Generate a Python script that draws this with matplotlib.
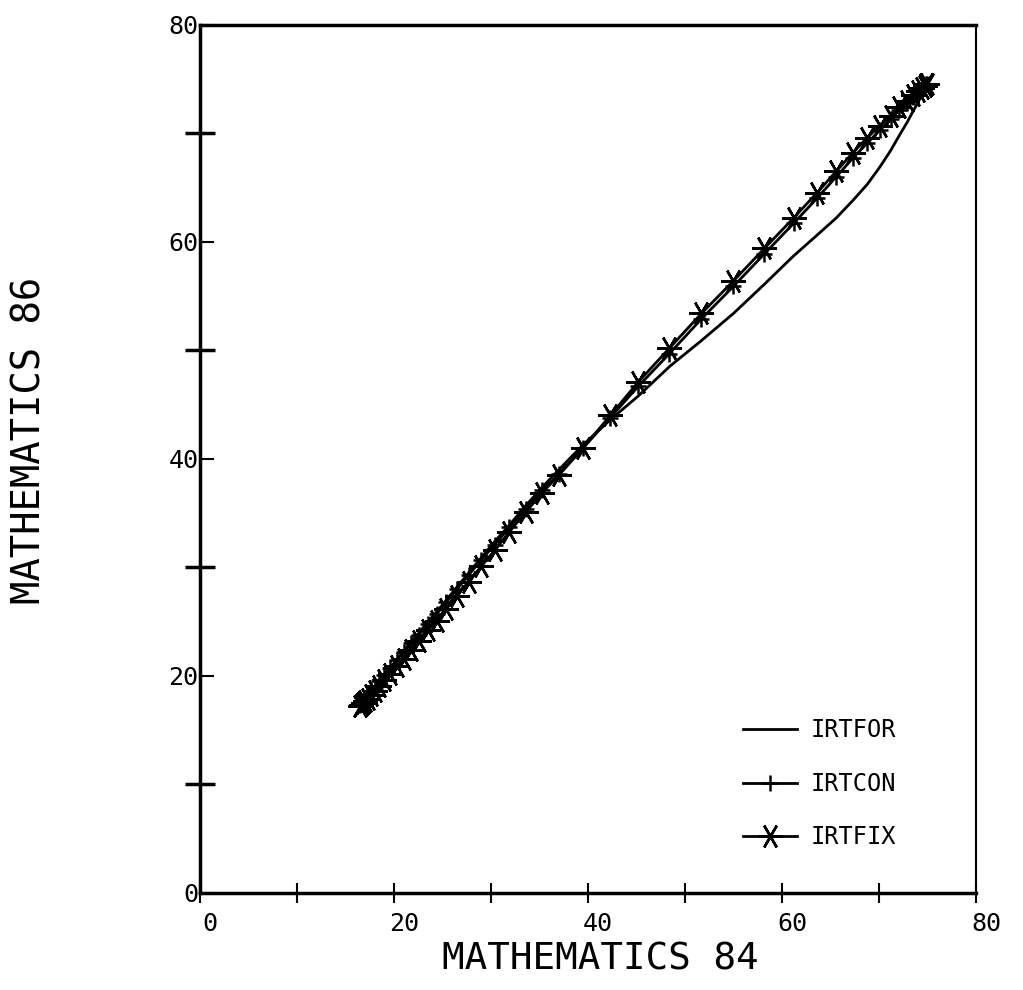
import matplotlib
matplotlib.use("Agg")
import matplotlib.pyplot as plt
import matplotlib.transforms as mtransforms

# score points on the Mathematics 84 scale
math84 = [16.5, 16.6, 16.8, 17.0, 17.3, 17.6, 18.0, 18.5, 19.0, 19.6,
          20.3, 21.0, 21.8, 22.6, 23.5, 24.4, 25.4, 26.5, 27.7, 29.0,
          30.4, 31.9, 33.6, 35.3, 37.0, 39.5, 42.3, 45.2, 48.4, 51.7,
          55.0, 58.2, 61.2, 63.6, 65.6, 67.3, 68.8, 70.1, 71.2, 72.1,
          72.9, 73.5, 74.0, 74.4, 74.7, 74.9, 75.0]

# equated Mathematics 86 scores
irtfor = [17.2, 17.3, 17.5, 17.8, 18.1, 18.4, 18.9, 19.5, 20.1, 20.7,
          21.5, 22.3, 23.2, 24.0, 25.0, 25.9, 27.0, 28.2, 29.5, 30.9,
          32.4, 33.9, 35.7, 37.4, 39.0, 41.3, 43.6, 45.8, 48.5, 50.9,
          53.4, 56.1, 58.7, 60.6, 62.2, 63.8, 65.3, 66.9, 68.4, 69.8,
          71.0, 72.0, 72.8, 73.5, 74.0, 74.3, 74.5]
irtcon = [17.3, 17.4, 17.7, 17.9, 18.2, 18.5, 18.9, 19.5, 20.1, 20.7,
          21.5, 22.2, 23.0, 23.8, 24.8, 25.7, 26.8, 28.0, 29.3, 30.7,
          32.1, 33.7, 35.4, 37.1, 38.6, 41.0, 43.8, 46.7, 49.7, 52.9,
          55.9, 58.9, 61.7, 64.0, 66.0, 67.7, 69.1, 70.3, 71.3, 72.1,
          72.8, 73.3, 73.8, 74.1, 74.3, 74.5, 74.5]
irtfix = [17.2, 17.3, 17.5, 17.7, 17.9, 18.2, 18.6, 19.1, 19.6, 20.2,
          20.9, 21.6, 22.4, 23.2, 24.2, 25.1, 26.2, 27.4, 28.7, 30.1,
          31.6, 33.3, 35.1, 36.9, 38.5, 41.0, 44.0, 47.1, 50.2, 53.4,
          56.4, 59.4, 62.2, 64.5, 66.5, 68.2, 69.6, 70.7, 71.6, 72.4,
          73.0, 73.5, 73.9, 74.2, 74.4, 74.5, 74.5]

font = "DejaVu Sans Mono"

fig = plt.figure(figsize=(10.23, 9.9), dpi=100)
ax = fig.add_axes([0.1955, 0.098, 0.7585, 0.877])

ax.plot(math84, irtfor, "-", color="black", lw=2, label="IRTFOR")
ax.plot(math84, irtcon, "-", color="black", lw=2, marker="+",
        ms=11, mew=1.8, label="IRTCON")
ax.plot(math84, irtfix, "-", color="black", lw=2, marker=(6, 2, 30),
        ms=18, mew=1.8, label="IRTFIX")

ax.set_xlim(0, 80)
ax.set_ylim(0, 80)
ax.set_xticks([0, 20, 40, 60, 80])
ax.set_xticks([10, 30, 50, 70], minor=True)
ax.set_yticks([0, 20, 40, 60, 80])
ax.set_yticks([10, 30, 50, 70], minor=True)
ax.tick_params(axis="x", which="both", direction="inout", length=14,
               width=1.5, pad=7, labelsize=18)
ax.tick_params(axis="y", which="major", direction="in", length=10,
               width=1.5, pad=1, labelsize=18)
ax.tick_params(axis="y", which="minor", direction="inout", length=22,
               width=2.5)
for lab in ax.get_xticklabels() + ax.get_yticklabels():
    lab.set_family(font)
offset = mtransforms.ScaledTranslation(10 / 100, 0, fig.dpi_scale_trans)
for lab in ax.get_xticklabels():
    lab.set_transform(lab.get_transform() + offset)

for side in ["left", "bottom", "top"]:
    ax.spines[side].set_linewidth(2.5)
ax.spines["right"].set_linewidth(1.5)

leg = ax.legend(loc="lower right", bbox_to_anchor=(0.888, 0.13),
                bbox_transform=fig.transFigure, frameon=False, borderpad=0,
                handlelength=2.3, handletextpad=0.6, labelspacing=1.25,
                prop={"family": font, "size": 17})

fig.text(600 / 1023, 1 - 960 / 990, "MATHEMATICS 84", family=font,
         fontsize=27, ha="center", va="center")
fig.text(30 / 1023, 1 - 440 / 990, "MATHEMATICS 86", family=font,
         fontsize=28, ha="center", va="center", rotation=90)

fig.savefig("out.png", dpi=100)
